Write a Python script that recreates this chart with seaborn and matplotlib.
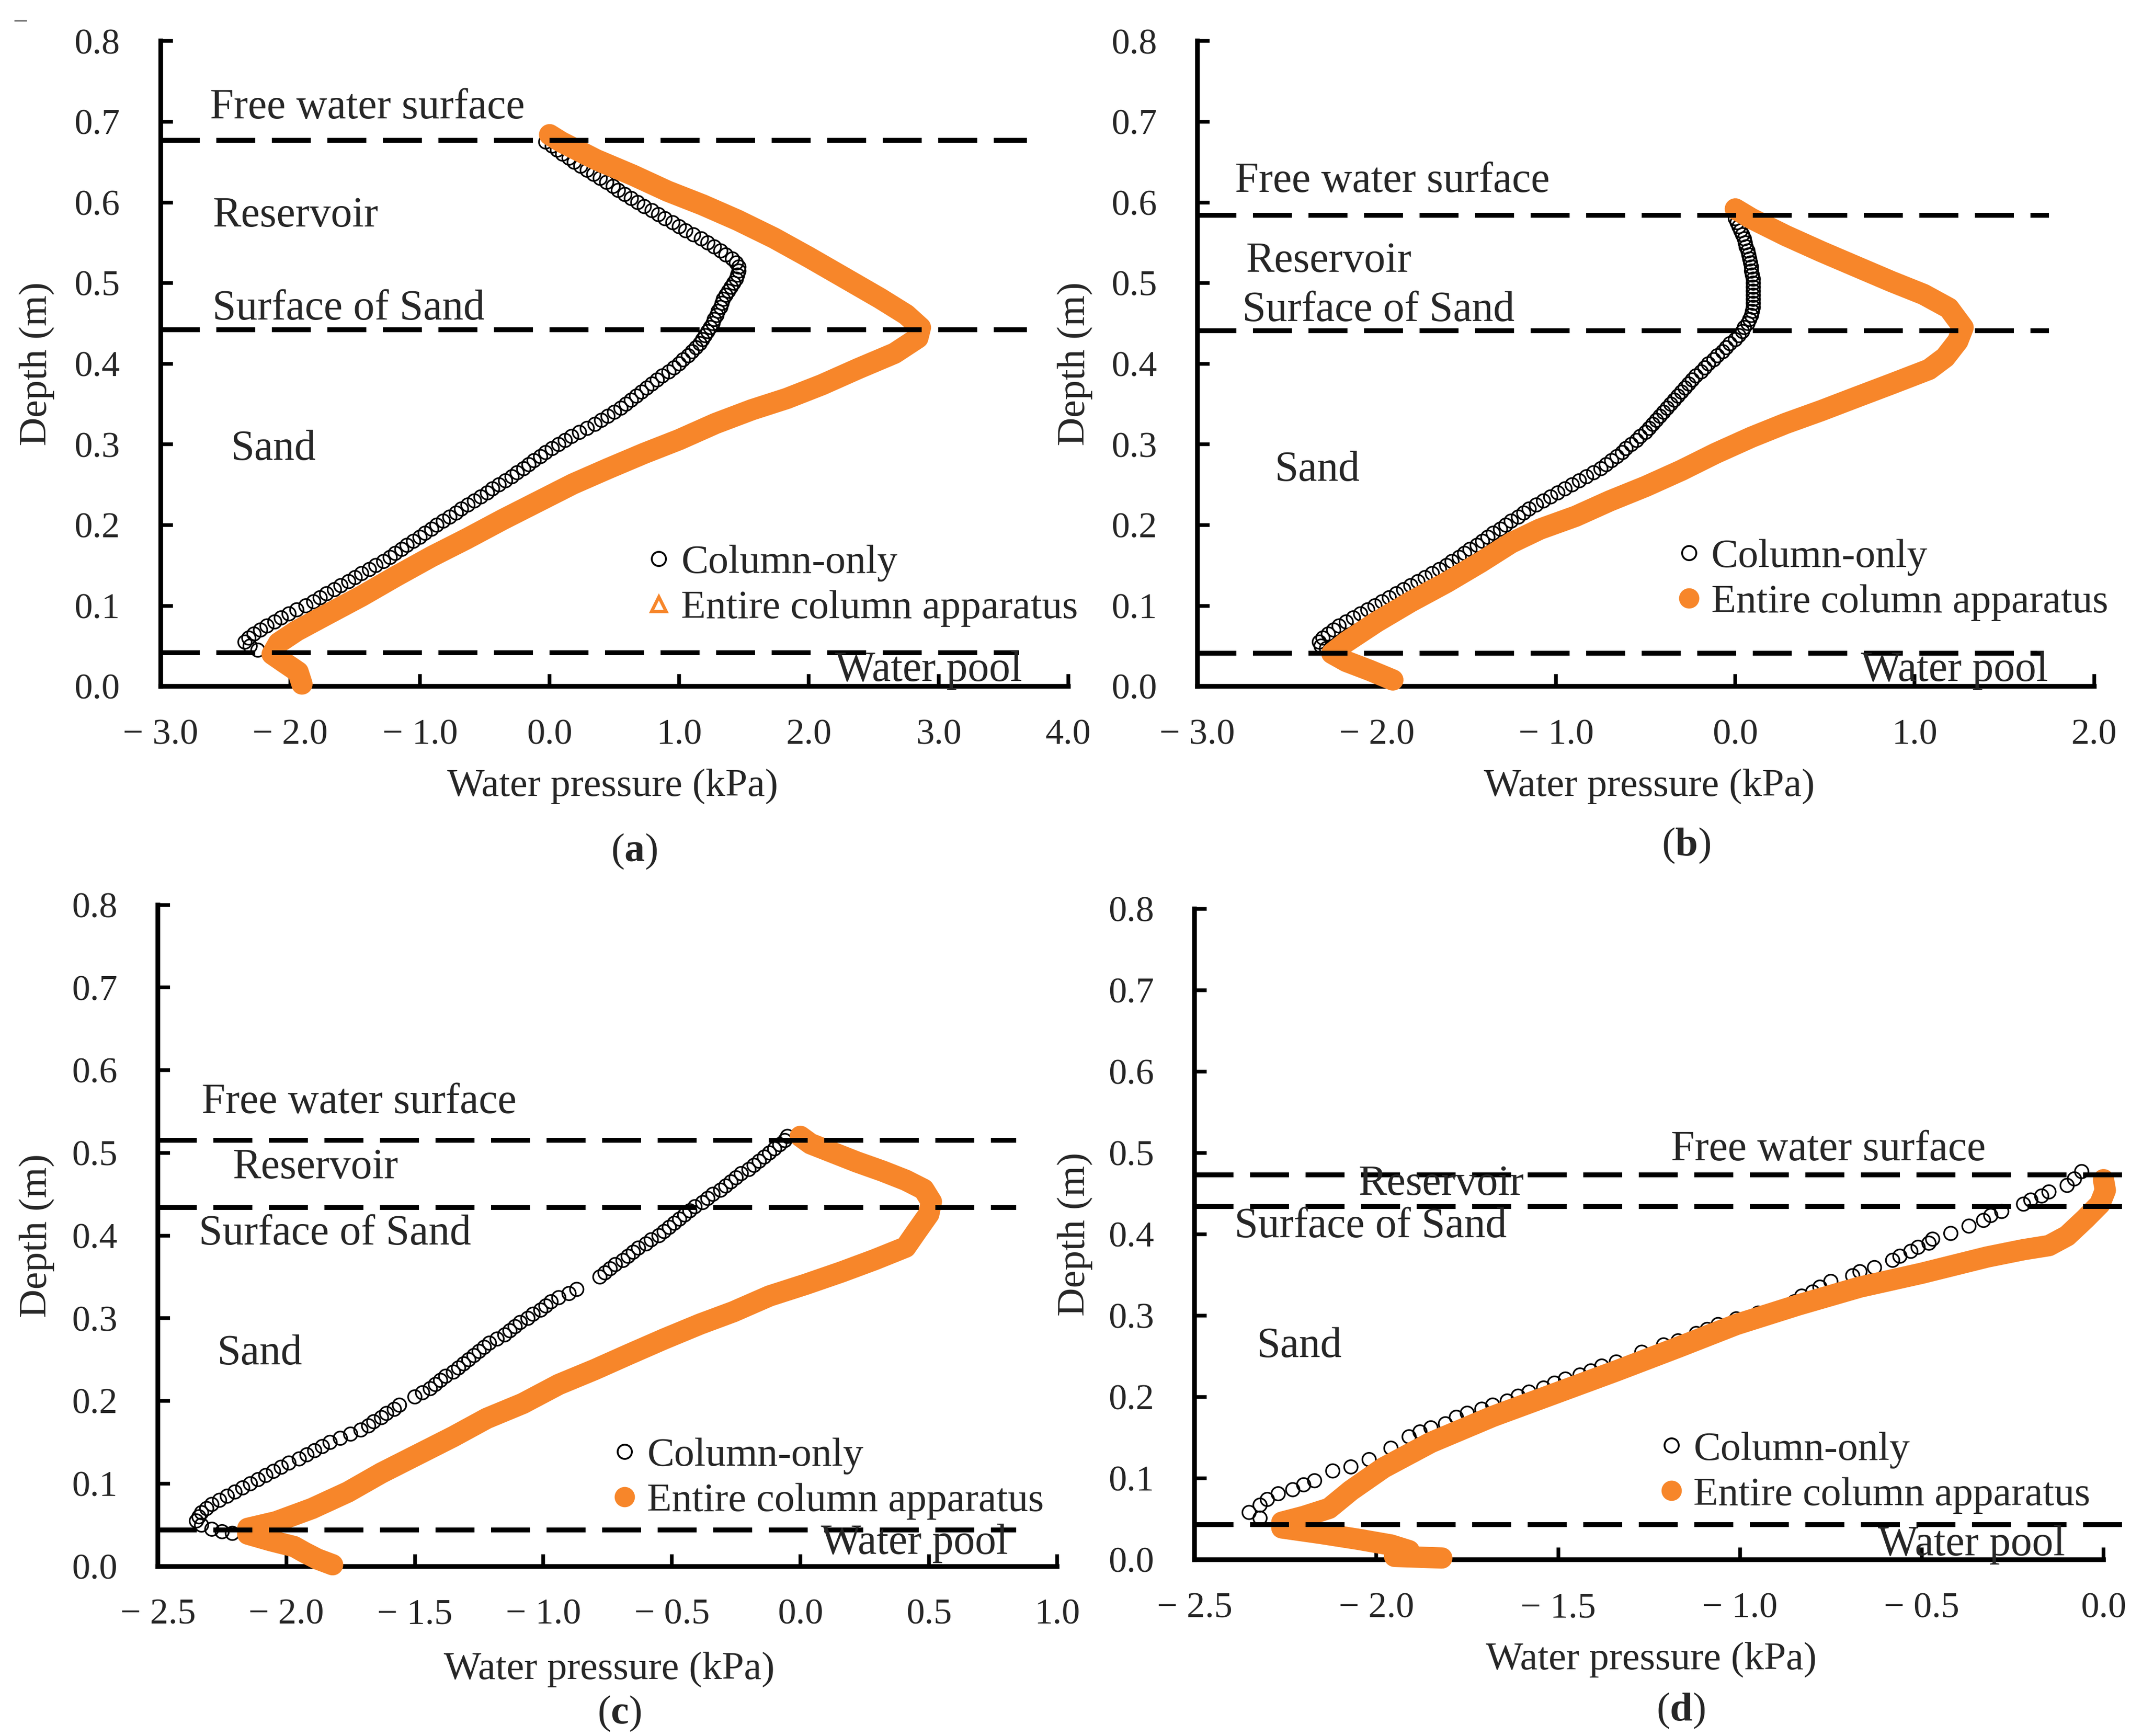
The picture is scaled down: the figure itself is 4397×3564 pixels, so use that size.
import matplotlib
matplotlib.use("Agg")
import matplotlib.pyplot as plt
from matplotlib.lines import Line2D
from matplotlib.ticker import FuncFormatter
import seaborn as sns

# ---------------- data ----------------
depth_ticks = [0.0, 0.1, 0.2, 0.3, 0.4, 0.5, 0.6, 0.7, 0.8]

# (a)
a_levels = [0.677, 0.442, 0.042]   # free water surface, surface of sand, water pool
a_col_depth = [
    0.675, 0.670, 0.665, 0.660, 0.655, 0.650, 0.645, 0.640, 0.635, 0.630,
    0.625, 0.620, 0.615, 0.610, 0.605, 0.600, 0.595, 0.590, 0.585, 0.580,
    0.575, 0.570, 0.565, 0.560, 0.555, 0.550, 0.545, 0.540, 0.535, 0.530,
    0.525, 0.520, 0.515, 0.510, 0.505, 0.500, 0.495, 0.490, 0.485, 0.480,
    0.475, 0.470, 0.465, 0.460, 0.455, 0.450, 0.445, 0.440, 0.435, 0.430,
    0.425, 0.420, 0.415, 0.410, 0.405, 0.400, 0.395, 0.390, 0.385, 0.380,
    0.375, 0.370, 0.365, 0.360, 0.355, 0.350, 0.345, 0.340, 0.335, 0.330,
    0.325, 0.320, 0.315, 0.310, 0.305, 0.300, 0.295, 0.290, 0.285, 0.280,
    0.275, 0.270, 0.265, 0.260, 0.255, 0.250, 0.245, 0.240, 0.235, 0.230,
    0.225, 0.220, 0.215, 0.210, 0.205, 0.200, 0.195, 0.190, 0.185, 0.180,
    0.175, 0.170, 0.165, 0.160, 0.155, 0.150, 0.145, 0.140, 0.135, 0.130,
    0.125, 0.120, 0.115, 0.110, 0.105, 0.100, 0.095, 0.090, 0.085, 0.080,
    0.075, 0.070, 0.065, 0.060, 0.055, 0.050, 0.045]
a_col_kpa = [
    -0.03, 0.02, 0.06, 0.10, 0.15, 0.19, 0.24, 0.29, 0.34, 0.39,
    0.44, 0.49, 0.53, 0.58, 0.63, 0.68, 0.73, 0.79, 0.84, 0.89,
    0.95, 1.00, 1.05, 1.11, 1.17, 1.22, 1.27, 1.32, 1.36, 1.41,
    1.44, 1.46, 1.46, 1.45, 1.44, 1.42, 1.40, 1.38, 1.36, 1.34,
    1.33, 1.32, 1.30, 1.29, 1.27, 1.26, 1.24, 1.22, 1.20, 1.18,
    1.16, 1.13, 1.10, 1.07, 1.03, 1.00, 0.96, 0.92, 0.87, 0.83,
    0.79, 0.75, 0.71, 0.67, 0.63, 0.59, 0.55, 0.50, 0.45, 0.40,
    0.35, 0.29, 0.23, 0.17, 0.12, 0.07, 0.02, -0.03, -0.07, -0.12,
    -0.16, -0.20, -0.25, -0.29, -0.34, -0.39, -0.44, -0.48, -0.53, -0.58,
    -0.63, -0.68, -0.72, -0.77, -0.82, -0.87, -0.91, -0.96, -1.00, -1.05,
    -1.10, -1.14, -1.19, -1.23, -1.28, -1.34, -1.39, -1.45, -1.50, -1.55,
    -1.61, -1.66, -1.72, -1.77, -1.82, -1.88, -1.95, -2.01, -2.07, -2.12,
    -2.18, -2.23, -2.28, -2.32, -2.35, -2.31, -2.25]
a_app_depth = [
    0.684, 0.675, 0.653, 0.634, 0.614, 0.597, 0.578, 0.556, 0.532, 0.507,
    0.481, 0.461, 0.445, 0.432, 0.413, 0.394, 0.374, 0.357, 0.343, 0.326,
    0.306, 0.289, 0.270, 0.251, 0.229, 0.207, 0.183, 0.161, 0.137, 0.112,
    0.088, 0.069, 0.054, 0.040, 0.030, 0.018, 0.003]
a_app_kpa = [
    0.00, 0.09, 0.36, 0.64, 0.91, 1.18, 1.45, 1.73, 2.00, 2.27,
    2.55, 2.75, 2.86, 2.84, 2.66, 2.38, 2.10, 1.83, 1.56, 1.28,
    1.00, 0.73, 0.45, 0.18, -0.09, -0.36, -0.64, -0.91, -1.18, -1.45,
    -1.73, -1.95, -2.09, -2.14, -2.05, -1.94, -1.91]

# (b)
b_levels = [0.584, 0.441, 0.041]
b_col_depth = [
    0.580, 0.575, 0.570, 0.565, 0.560, 0.555, 0.550, 0.545, 0.540, 0.535,
    0.530, 0.525, 0.520, 0.515, 0.510, 0.505, 0.500, 0.495, 0.490, 0.485,
    0.480, 0.475, 0.470, 0.465, 0.460, 0.455, 0.450, 0.445, 0.440, 0.435,
    0.430, 0.425, 0.420, 0.415, 0.410, 0.405, 0.400, 0.395, 0.390, 0.385,
    0.380, 0.375, 0.370, 0.365, 0.360, 0.355, 0.350, 0.345, 0.340, 0.335,
    0.330, 0.325, 0.320, 0.315, 0.310, 0.305, 0.300, 0.295, 0.290, 0.285,
    0.280, 0.275, 0.270, 0.265, 0.260, 0.255, 0.250, 0.245, 0.240, 0.235,
    0.230, 0.225, 0.220, 0.215, 0.210, 0.205, 0.200, 0.195, 0.190, 0.185,
    0.180, 0.175, 0.170, 0.165, 0.160, 0.155, 0.150, 0.145, 0.140, 0.135,
    0.130, 0.125, 0.120, 0.115, 0.110, 0.105, 0.100, 0.095, 0.090, 0.085,
    0.080, 0.075, 0.070, 0.065, 0.060, 0.055, 0.050, 0.047]
b_col_kpa = [
    0.00, 0.01, 0.02, 0.03, 0.04, 0.05, 0.055, 0.06, 0.07, 0.075,
    0.08, 0.085, 0.09, 0.09, 0.095, 0.10, 0.10, 0.10, 0.10, 0.10,
    0.10, 0.10, 0.10, 0.095, 0.09, 0.08, 0.07, 0.05, 0.04, 0.02,
    0.00, -0.03, -0.05, -0.07, -0.10, -0.12, -0.15, -0.17, -0.19, -0.22,
    -0.24, -0.26, -0.28, -0.30, -0.32, -0.34, -0.36, -0.38, -0.40, -0.42,
    -0.44, -0.46, -0.48, -0.50, -0.53, -0.55, -0.58, -0.61, -0.63, -0.66,
    -0.69, -0.72, -0.75, -0.79, -0.83, -0.87, -0.91, -0.95, -0.99, -1.03,
    -1.07, -1.11, -1.15, -1.18, -1.21, -1.25, -1.28, -1.31, -1.35, -1.38,
    -1.41, -1.44, -1.48, -1.51, -1.54, -1.58, -1.61, -1.65, -1.69, -1.73,
    -1.77, -1.81, -1.85, -1.89, -1.93, -1.97, -2.01, -2.05, -2.09, -2.13,
    -2.17, -2.21, -2.24, -2.27, -2.30, -2.32, -2.31, -2.28]
b_app_depth = [
    0.592, 0.580, 0.559, 0.539, 0.520, 0.502, 0.486, 0.469, 0.445, 0.428,
    0.408, 0.393, 0.375, 0.359, 0.342, 0.326, 0.309, 0.289, 0.268, 0.248,
    0.230, 0.211, 0.195, 0.178, 0.154, 0.129, 0.105, 0.080, 0.055, 0.041,
    0.031, 0.020, 0.008]
b_app_kpa = [
    0.00, 0.09, 0.28, 0.48, 0.68, 0.87, 1.05, 1.19, 1.27, 1.24,
    1.17, 1.08, 0.87, 0.68, 0.48, 0.28, 0.09, -0.11, -0.30, -0.50,
    -0.70, -0.89, -1.09, -1.25, -1.42, -1.61, -1.81, -2.00, -2.17, -2.25,
    -2.17, -2.04, -1.91]

# (c)
c_levels = [0.515, 0.434, 0.044]
c_col_depth = [
    0.520, 0.515, 0.510, 0.505, 0.500, 0.495, 0.490, 0.485, 0.480, 0.475,
    0.470, 0.465, 0.460, 0.455, 0.450, 0.445, 0.440, 0.435, 0.430, 0.425,
    0.420, 0.415, 0.410, 0.405, 0.400, 0.395, 0.390, 0.385, 0.380, 0.375,
    0.370, 0.365, 0.360, 0.355, 0.350,
    0.335, 0.330, 0.325, 0.320, 0.315, 0.310, 0.305, 0.300, 0.295, 0.290,
    0.285, 0.280, 0.275, 0.270, 0.265, 0.260, 0.255, 0.250, 0.245, 0.240,
    0.235, 0.230, 0.225, 0.220, 0.215, 0.210, 0.205,
    0.195, 0.190, 0.185, 0.180, 0.175, 0.170, 0.165, 0.160, 0.155, 0.150,
    0.145, 0.140, 0.135, 0.130, 0.125, 0.120, 0.115, 0.110, 0.105, 0.100,
    0.095, 0.090, 0.085, 0.080, 0.075, 0.070, 0.065, 0.060, 0.055, 0.050,
    0.045, 0.042, 0.040]
c_col_kpa = [
    -0.05, -0.06, -0.08, -0.10, -0.12, -0.14, -0.16, -0.18, -0.20, -0.23,
    -0.25, -0.27, -0.29, -0.31, -0.34, -0.36, -0.38, -0.41, -0.43, -0.45,
    -0.47, -0.49, -0.51, -0.53, -0.55, -0.58, -0.60, -0.63, -0.65, -0.67,
    -0.69, -0.72, -0.74, -0.76, -0.78,
    -0.87, -0.90, -0.94, -0.97, -0.99, -1.01, -1.04, -1.06, -1.09, -1.11,
    -1.13, -1.15, -1.18, -1.21, -1.23, -1.25, -1.27, -1.29, -1.31, -1.33,
    -1.35, -1.38, -1.40, -1.42, -1.44, -1.47, -1.50,
    -1.56, -1.58, -1.61, -1.63, -1.66, -1.68, -1.71, -1.75, -1.79, -1.83,
    -1.86, -1.89, -1.92, -1.95, -1.99, -2.02, -2.05, -2.08, -2.11, -2.14,
    -2.17, -2.20, -2.23, -2.26, -2.29, -2.31, -2.33, -2.34, -2.35, -2.33,
    -2.29, -2.25, -2.21]
c_app_depth = [
    0.520, 0.511, 0.500, 0.489, 0.478, 0.467, 0.456, 0.441, 0.426, 0.404,
    0.386, 0.371, 0.356, 0.341, 0.327, 0.308, 0.293, 0.275, 0.256, 0.238,
    0.220, 0.197, 0.179, 0.157, 0.135, 0.113, 0.090, 0.070, 0.054, 0.046,
    0.039, 0.031, 0.024, 0.017, 0.009, 0.002]
c_app_kpa = [
    0.00, 0.04, 0.13, 0.22, 0.32, 0.41, 0.48, 0.51, 0.50, 0.45,
    0.41, 0.29, 0.16, 0.02, -0.12, -0.26, -0.39, -0.53, -0.67, -0.80,
    -0.94, -1.08, -1.22, -1.35, -1.49, -1.63, -1.76, -1.90, -2.04, -2.15,
    -2.15, -2.06, -1.97, -1.93, -1.88, -1.82]

# (d)
d_levels = [0.473, 0.434, 0.043]
d_col_depth = [
    0.477, 0.468, 0.460, 0.452, 0.447, 0.442, 0.437, 0.428, 0.423, 0.417,
    0.410, 0.401, 0.394, 0.389, 0.384, 0.379, 0.373, 0.368, 0.359, 0.354,
    0.349, 0.342, 0.335, 0.329, 0.324, 0.317, 0.308, 0.303, 0.296, 0.289,
    0.283, 0.278, 0.269, 0.264, 0.255, 0.243, 0.238, 0.232, 0.227, 0.222,
    0.217, 0.211, 0.206, 0.201, 0.195, 0.190, 0.185, 0.180, 0.175, 0.167,
    0.162, 0.157, 0.151, 0.137, 0.123, 0.114, 0.109, 0.097, 0.092, 0.086,
    0.081, 0.074, 0.067, 0.058, 0.051]
d_col_kpa = [
    -0.06, -0.08, -0.10, -0.15, -0.17, -0.20, -0.22, -0.28, -0.31, -0.33,
    -0.37, -0.42, -0.47, -0.48, -0.51, -0.53, -0.56, -0.58, -0.63, -0.67,
    -0.69, -0.75, -0.78, -0.80, -0.83, -0.85, -0.90, -0.95, -1.01, -1.06,
    -1.09, -1.12, -1.17, -1.21, -1.27, -1.34, -1.38, -1.41, -1.44, -1.48,
    -1.51, -1.54, -1.58, -1.61, -1.64, -1.68, -1.71, -1.75, -1.78, -1.81,
    -1.85, -1.88, -1.91, -1.96, -2.02, -2.07, -2.12, -2.17, -2.20, -2.23,
    -2.27, -2.30, -2.32, -2.35, -2.32]
d_app_depth = [
    0.467, 0.454, 0.437, 0.419, 0.398, 0.386, 0.381, 0.372, 0.352, 0.335,
    0.313, 0.289, 0.261, 0.232, 0.204, 0.176, 0.144, 0.113, 0.085, 0.063,
    0.053, 0.046, 0.039, 0.032, 0.025, 0.018, 0.011, 0.004, 0.002]
d_app_kpa = [
    0.00, 0.005, -0.01, -0.05, -0.10, -0.15, -0.22, -0.32, -0.50, -0.67,
    -0.84, -1.01, -1.17, -1.34, -1.51, -1.68, -1.85, -1.98, -2.07, -2.13,
    -2.20, -2.26, -2.26, -2.15, -2.05, -1.96, -1.91, -1.95, -1.82]

region_names = ["Free water surface", "Reservoir", "Surface of Sand", "Sand", "Water pool"]
series_names = ["Column-only", "Entire column apparatus"]

ORANGE = "#F7862A"

sns.set_style("ticks")
plt.rcParams["font.family"] = ["Liberation Serif", "DejaVu Serif"]
plt.rcParams["mathtext.fontset"] = "custom"
plt.rcParams["mathtext.rm"] = "Liberation Serif"
plt.rcParams["mathtext.bf"] = "Liberation Serif:bold"


def fmt_kpa(v, _):
    if v < -1e-9:
        return "\u2212 " + f"{abs(v):.1f}"
    return f"{abs(v):.1f}"


panels = [
    dict(tag="a", rect=[0.0750, 0.6046, 0.4237, 0.3717], xlim=(-3.0, 4.0),
         xticks=[-3, -2, -1, 0, 1, 2, 3, 4], spine=None, line_end=[3.68, 3.68, 3.62],
         levels=a_levels, col=(a_col_kpa, a_col_depth), app=(a_app_kpa, a_app_depth),
         text_xy=[(-2.62, 0.717), (-2.60, 0.583), (-2.60, 0.468), (-2.46, 0.294), (2.20, 0.020)],
         leg=(0.531, 0.156), tri=True, ylab_x=-0.136, xlab=(0.498, -0.155),
         tag_xy=(0.2961, 0.5095)),
    dict(tag="b", rect=[0.5590, 0.6046, 0.4186, 0.3717], xlim=(-3.0, 2.0),
         xticks=[-3, -2, -1, 0, 1, 2], spine=None, line_end=[1.75, 1.75, 1.72],
         levels=b_levels, col=(b_col_kpa, b_col_depth), app=(b_app_kpa, b_app_depth),
         text_xy=[(-2.79, 0.626), (-2.73, 0.527), (-2.75, 0.466), (-2.57, 0.268), (0.70, 0.020)],
         leg=(0.530, 0.165), tri=False, ylab_x=-0.136, xlab=(0.504, -0.155),
         tag_xy=(0.7871, 0.5129)),
    dict(tag="c", rect=[0.0737, 0.0977, 0.4199, 0.3811], xlim=(-2.5, 1.0),
         xticks=[-2.5, -2.0, -1.5, -1.0, -0.5, 0.0, 0.5, 1.0], spine=None,
         line_end=[0.84, 0.84, 0.84],
         levels=c_levels, col=(c_col_kpa, c_col_depth), app=(c_app_kpa, c_app_depth),
         text_xy=[(-2.33, 0.561), (-2.21, 0.482), (-2.34, 0.402), (-2.27, 0.257), (0.08, 0.028)],
         leg=(0.501, 0.133), tri=False, ylab_x=-0.134, xlab=(0.502, -0.156),
         tag_xy=(0.2891, 0.0129)),
    dict(tag="d", rect=[0.5577, 0.1016, 0.4413, 0.3749], xlim=(-2.5, 0.1),
         xticks=[-2.5, -2.0, -1.5, -1.0, -0.5, 0.0], spine=(-2.5, 0.0),
         line_end=[0.075, 0.075, 0.075],
         levels=d_levels, col=(d_col_kpa, d_col_depth), app=(d_app_kpa, d_app_depth),
         text_xy=[(-1.19, 0.504), (-2.05, 0.461), (-2.39, 0.409), (-2.33, 0.262), (-0.62, 0.018)],
         leg=(0.487, 0.134), tri=False, ylab_x=-0.126, xlab=(0.483, -0.154),
         tag_xy=(0.7846, 0.0146)),
]

fig = plt.figure(figsize=(4397 / 300, 3564 / 300), dpi=300)

for p in panels:
    ax = fig.add_axes(p["rect"])

    # measured series
    sns.scatterplot(x=p["col"][0], y=p["col"][1], ax=ax, marker="o", s=44,
                    facecolor="none", edgecolor="black", linewidth=0.8,
                    legend=False, zorder=3)
    sns.lineplot(x=p["app"][0], y=p["app"][1], ax=ax, sort=False, estimator=None,
                 color=ORANGE, linewidth=10.5, solid_capstyle="round",
                 solid_joinstyle="round", legend=False, zorder=4, clip_on=False)

    # level lines
    for lev, xe in zip(p["levels"], p["line_end"]):
        ax.hlines(lev, p["xlim"][0], xe, colors="black", linewidth=2.4,
                  linestyles=(0, (8, 3.4)), zorder=5)

    for name, (tx, ty) in zip(region_names, p["text_xy"]):
        ax.text(tx, ty, name, fontsize=21, ha="left", va="center", zorder=6)

    ax.set_xlim(*p["xlim"])
    ax.set_ylim(0, 0.8)
    ax.set_xticks(p["xticks"])
    ax.set_yticks(depth_ticks)
    ax.xaxis.set_major_formatter(FuncFormatter(fmt_kpa))
    ax.yaxis.set_major_formatter(FuncFormatter(lambda v, _: f"{v:.1f}"))
    ax.tick_params(direction="in", length=6, width=1.8, labelsize=18, color="black")
    ax.tick_params(axis="x", pad=16)
    ax.tick_params(axis="y", pad=20)

    sns.despine(ax=ax)
    for side in ("left", "bottom"):
        ax.spines[side].set_linewidth(2.3)
        ax.spines[side].set_color("black")
    if p["spine"] is not None:
        ax.spines["bottom"].set_bounds(*p["spine"])

    ax.set_xlabel("Water pressure (kPa)", fontsize=19.5)
    ax.set_ylabel("Depth (m)", fontsize=19.5)
    ax.xaxis.set_label_coords(*p["xlab"])
    ax.xaxis.label.set_va("center")
    ax.yaxis.set_label_coords(p["ylab_x"], 0.5)
    ax.yaxis.label.set_va("center")

    h_col = Line2D([], [], ls="none", marker="o", ms=7, mfc="none", mec="black", mew=0.9)
    if p["tri"]:
        h_app = Line2D([], [], ls="none", marker="^", ms=7, mfc="none", mec=ORANGE, mew=1.6)
    else:
        h_app = Line2D([], [], ls="none", marker="o", ms=9, mfc=ORANGE, mec=ORANGE)
    ax.legend([h_col, h_app], series_names, loc="center left", bbox_to_anchor=p["leg"],
              frameon=False, fontsize=20, handlelength=0.8, handletextpad=0.15,
              borderpad=0, borderaxespad=0, labelspacing=0.2)

    fig.text(p["tag_xy"][0], p["tag_xy"][1], "($\\mathbf{" + p["tag"] + "}$)",
             fontsize=20, ha="center", va="center")

fig.text(0.0096, 0.988, "\u2013", fontsize=12, ha="center", va="center")

fig.savefig("out.png", dpi=300, facecolor="white")
